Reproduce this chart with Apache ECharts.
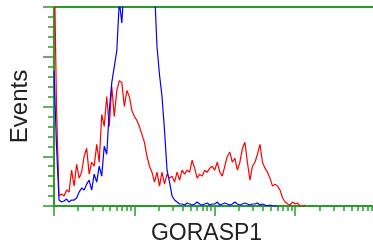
<!DOCTYPE html>
<html>
<head>
<meta charset="utf-8">
<script src="https://cdn.jsdelivr.net/npm/echarts@6/dist/echarts.min.js"></script>
<style>
html, body { margin: 0; padding: 0; background: #fff; }
#chart { width: 373px; height: 250px; }
</style>
</head>
<body>
<div id="chart"></div>
<script>
// histogram bins, 32 bins per decade (log display)
var xName = "GORASP1";
var yName = "Events";
var majorTicks = [0, 32, 64, 96];
var minorFactors = [2, 3, 4, 5, 6, 7, 8, 9];

// red: stained sample
var redCounts = [
    130, 50, 5, 6, 5, 8, 7, 18, 10, 21,
    14, 17, 25, 29, 16, 22, 20, 31, 22, 46,
    40, 55, 40, 60, 45, 58, 63, 62, 50, 58,
    55, 48, 45, 43, 40, 36, 32, 25, 20, 17,
    12, 17, 10, 17, 11, 16, 14, 15, 12, 17,
    13, 18, 16, 18, 17, 23, 19, 14, 16, 15,
    18, 17, 19, 20, 18, 22, 17, 15, 20, 25,
    27, 22, 24, 18, 22, 29, 32, 22, 13, 20,
    22, 26, 31, 22, 19, 17, 14, 10, 11, 10,
    8, 4, 2, 1, 0.5, 2, 1, 1.5, 0, 0, 0.5
];

// blue: control
var blueCounts = [
    68, 30, 3, 2, 2.5, 3.5, 2, 3, 3, 4,
    7, 9, 8, 11, 13, 8, 16, 12, 20, 15,
    30, 26, 48, 62, 70, 78, 103, 92, 112, 130,
    140, 150, 160, 165, 170, 165, 160, 150, 140, 125,
    110, 80, 66, 55, 38, 18, 12, 5, 3, 2,
    1, 1, 0.5, 1.5, 1, 0.5, 1, 2, 1, 0.5,
    1, 1.5, 0.5, 1, 1, 2, 0.5, 1, 1.5, 1,
    0.5, 1, 2, 1, 0.5, 1, 1.5, 1, 0.5, 1,
    1, 1.5, 0.5, 1, 0.5, 0, 0.5, 0, 0, 0
];

var green = "#2a9a2a";

function toPoints(arr) {
    return arr.map(function (v, i) { return [i, v]; });
}

var minorTicks = [];
majorTicks.forEach(function (m) {
    minorFactors.forEach(function (f) {
        var t = m + 32 * Math.log10(f);
        if (t <= 127) minorTicks.push(t);
    });
});

var myChart = echarts.init(document.getElementById("chart"));
myChart.setOption({
    animation: false,
    grid: { left: 46, right: 0, top: 7, bottom: 43 },
    xAxis: [{
        type: "value",
        min: 0,
        max: 127,
        name: xName,
        nameLocation: "middle",
        nameGap: 16,
        nameTextStyle: {
            fontFamily: "Liberation Sans",
            fontSize: 23,
            color: "#222",
            padding: [0, 14, 0, 0]
        },
        axisLine: { lineStyle: { color: green, width: 2 } },
        axisTick: { length: 10, customValues: majorTicks, lineStyle: { color: green, width: 1.5 } },
        axisLabel: { show: false },
        splitLine: { show: false }
    }, {
        type: "value",
        min: 0,
        max: 127,
        position: "bottom",
        axisLine: { show: false },
        axisTick: { length: 5, customValues: minorTicks, lineStyle: { color: green, width: 1.5 } },
        axisLabel: { show: false },
        splitLine: { show: false }
    }, {
        type: "value",
        min: 0,
        max: 127,
        position: "top",
        axisLine: { lineStyle: { color: green, width: 2 } },
        axisTick: { show: false },
        axisLabel: { show: false },
        splitLine: { show: false }
    }],
    yAxis: {
        type: "value",
        min: 0,
        max: 100,
        interval: 25,
        name: yName,
        nameLocation: "middle",
        nameRotate: 90,
        nameGap: 22,
        nameTextStyle: {
            fontFamily: "Liberation Sans",
            fontSize: 24,
            color: "#222"
        },
        axisLine: { lineStyle: { color: green, width: 2 } },
        axisTick: { length: 11, lineStyle: { color: green, width: 1.5 } },
        minorTick: { show: true, splitNumber: 5, length: 6, lineStyle: { color: green, width: 1.5 } },
        axisLabel: { show: false },
        splitLine: { show: false }
    },
    series: [{
        name: "red",
        type: "line",
        data: toPoints(redCounts),
        symbol: "none",
        clip: true,
        lineStyle: { color: "#ff0000", width: 1.2 }
    }, {
        name: "blue",
        type: "line",
        data: toPoints(blueCounts),
        symbol: "none",
        clip: true,
        lineStyle: { color: "#0000ff", width: 1.2 }
    }]
});
window.addEventListener("resize", function () {
    myChart.resize();
});
</script>
</body>
</html>
